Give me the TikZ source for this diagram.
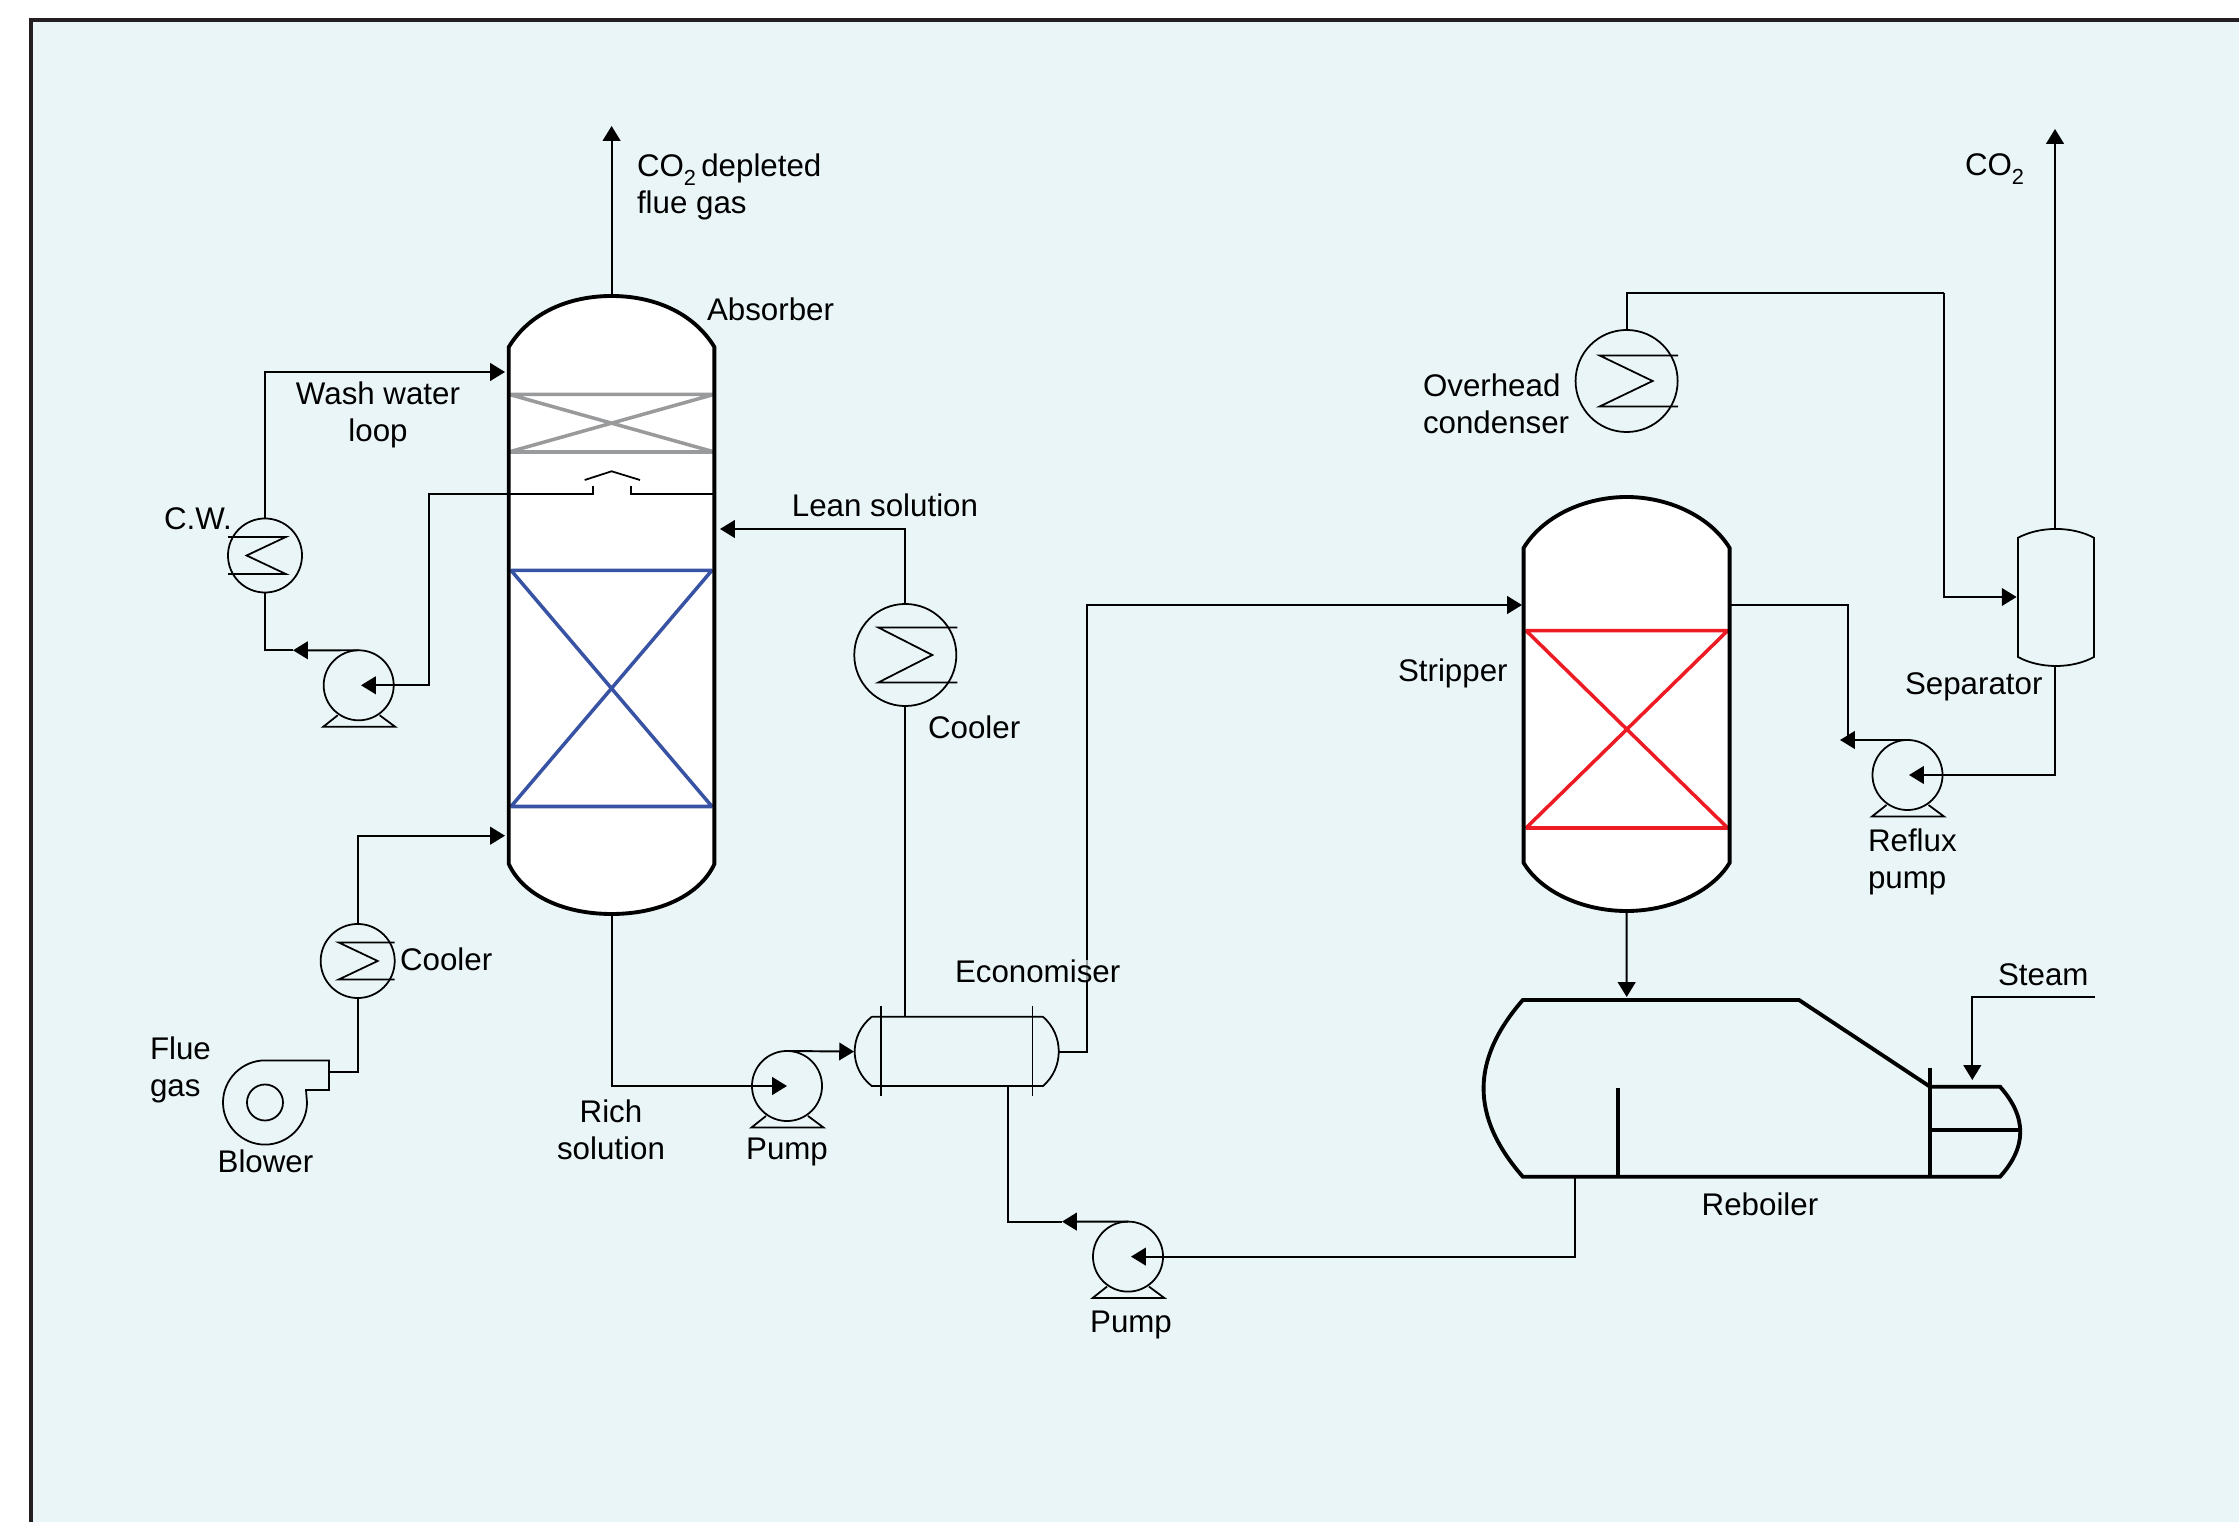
\documentclass[tikz,border=0pt]{standalone}
\usepackage{fontspec}
\setmainfont{Liberation Sans}
\usetikzlibrary{calc,arrows.meta}

\definecolor{panelbg}{HTML}{E9F5F7}
\definecolor{panelline}{HTML}{231F20}
\definecolor{washgrey}{HTML}{999A9C}
\definecolor{packblue}{HTML}{3953A4}
\definecolor{packred}{HTML}{ED1C24}

% small lowered 2 for the gas name
\newcommand{\subtwo}{\raisebox{-2.5pt}{\fontsize{6.2}{6.5}\selectfont 2}}
% feet under a pump
\newcommand{\pumpfeet}[1]{%
  \draw[equip] ($(#1.center)+(-21,30)$) -- ($(#1.center)+(-35.5,41.5)$)
    -- ($(#1.center)+(36.5,41.5)$) -- ($(#1.center)+(21,30)$);}
% coil inside an exchanger: node, half height, rail end, inner end, tip
\newcommand{\coilzig}[5]{%
  \draw[equip] ($(#1.center)+(#3,-#2)$) -- ($(#1.center)+(#4,-#2)$)
    -- ($(#1.center)+(#5,0)$) -- ($(#1.center)+(#4,#2)$) -- ($(#1.center)+(#3,#2)$);}

\begin{document}
\begin{tikzpicture}[x=0.01cm,y=-0.01cm]

% ---- Styles ----
\tikzset{
  pipe/.style={line width=0.55pt, black},
  flow/.style={pipe, -{Triangle[length=4.2pt,width=5pt]}},
  equip/.style={line width=0.5pt, black},
  vesselwall/.style={line width=1.1pt, black},
  vesselbox/.style={rectangle, inner sep=0pt, outer sep=0pt},
  pumpbody/.style={circle, draw, line width=0.5pt, inner sep=0pt, outer sep=0pt, minimum size=0.70cm},
  exchanger/.style={circle, draw, line width=0.5pt, inner sep=0pt, outer sep=0pt},
  tag/.style={inner sep=0pt, outer sep=0pt, align=center, text=black,
              font=\fontsize{8.9}{10.5}\selectfont},
  tagleft/.style={tag, align=left, anchor=west},
}

\useasboundingbox (0,0) rectangle (2239,1522);

% --- Panel ---
\fill[panelbg] (31,20) rectangle (2239,1522);
\draw[panelline, line width=1.15pt] (31,1522) -- (31,20) -- (2239,20);

% --- Absorber ---
\node[vesselbox, minimum width=2.056cm, minimum height=6.18cm] (absorber) at (611.6,605) {};
\fill[white] (508.8,347) .. controls (530,312) and (570,296) .. (611.6,296)
  .. controls (653,296) and (693,312) .. (714.4,347) -- (714.4,864)
  .. controls (700,895) and (660,914) .. (611.6,914)
  .. controls (563,914) and (523,895) .. (508.8,864) -- cycle;
\draw[washgrey, line width=1pt, line join=bevel] (508.8,394.3) -- (714.4,394.3) -- (508.8,452) -- (714.4,452) -- cycle;
\draw[packblue, line width=1pt, line join=bevel] (511,570.3) -- (712,570.3) -- (511,806.5) -- (712,806.5) -- cycle;
\draw[vesselwall] (508.8,347) .. controls (530,312) and (570,296) .. (611.6,296)
  .. controls (653,296) and (693,312) .. (714.4,347) -- (714.4,864)
  .. controls (700,895) and (660,914) .. (611.6,914)
  .. controls (563,914) and (523,895) .. (508.8,864) -- cycle;
\draw[equip] (584.7,480) -- (611.6,471.3) -- (640,480);

% --- Stripper ---
\node[vesselbox, minimum width=2.06cm, minimum height=4.14cm] (stripper) at (1626.6,704) {};
\fill[white] (1523.6,548) .. controls (1543,516) and (1585,497) .. (1626.6,497)
  .. controls (1668,497) and (1710,516) .. (1729.6,548) -- (1729.6,862.8)
  .. controls (1712,892) and (1670,911) .. (1626.6,911)
  .. controls (1583,911) and (1541,892) .. (1523.6,862.8) -- cycle;
\draw[packred, line width=1pt, line join=bevel] (1526,630.6) -- (1727.7,630.6) -- (1526,828) -- (1727.7,828) -- cycle;
\draw[vesselwall] (1523.6,548) .. controls (1543,516) and (1585,497) .. (1626.6,497)
  .. controls (1668,497) and (1710,516) .. (1729.6,548) -- (1729.6,862.8)
  .. controls (1712,892) and (1670,911) .. (1626.6,911)
  .. controls (1583,911) and (1541,892) .. (1523.6,862.8) -- cycle;

% --- Separator ---
\node[vesselbox, minimum width=0.76cm, minimum height=1.368cm] (separator) at (2055,597.4) {};
\draw[equip] (2018,537.8) .. controls (2040,526) and (2072,526) .. (2094,537.8) -- (2094,657)
  .. controls (2072,669) and (2040,669) .. (2018,657) -- cycle;

% --- Economiser ---
\node[vesselbox, minimum width=2.036cm, minimum height=0.692cm] (econ) at (956.8,1051.6) {};
\draw[equip] (871.7,1016.8) -- (1043,1016.8) .. controls (1064,1035) and (1064,1068) .. (1043,1086)
  -- (871.7,1086) .. controls (849,1068) and (849,1035) .. (871.7,1016.8);
\draw[equip] (881.3,1006.4) -- (881.3,1096.4);
\draw[equip] (1032.4,1006.4) -- (1032.4,1096.4);

% --- Reboiler ---
\node[vesselbox, minimum width=5.365cm, minimum height=1.767cm] (reboiler) at (1751.75,1088.3) {};
\draw[vesselwall] (1522.8,1000) -- (1799,1000) -- (1930,1086.7) -- (2000,1086.7)
  .. controls (2027,1117) and (2027,1147) .. (2000,1176.7) -- (1522.8,1176.7)
  .. controls (1470.5,1117) and (1470.5,1060) .. (1522.8,1000) -- cycle;
\draw[vesselwall] (1930,1067.7) -- (1930,1176.7);
\draw[vesselwall] (1930,1130.3) -- (2020,1130.3);
\draw[vesselwall] (1618.3,1088) -- (1618.3,1176.7);

% --- Blower ---
\node[circle, draw, line width=0.5pt, inner sep=0pt, outer sep=0pt, minimum size=0.36cm] (blowerEye) at (265,1102.5) {};
\draw[equip] (329,1090) -- (329,1060.4) -- (265,1060.4)
  .. controls (241.8,1060.4) and (223,1079.5) .. (223,1102.5)
  .. controls (223,1125.5) and (241.8,1144.6) .. (265,1144.6)
  .. controls (288.2,1144.6) and (307,1125.5) .. (307,1102.5) -- (306,1090) -- cycle;

% --- Exchangers ---
\node[exchanger, minimum size=0.74cm] (coolWash) at (265,555.5) {};
\node[exchanger, minimum size=0.74cm] (coolFlue) at (357.7,961) {};
\node[exchanger, minimum size=1.02cm] (coolLean) at (905.3,655) {};
\node[exchanger, minimum size=1.02cm] (condenser) at (1626.6,381) {};
\coilzig{coolWash}{18.6}{-37}{21}{-18.4}
\coilzig{coolFlue}{18.5}{37}{-19}{20}
\coilzig{coolLean}{27.5}{52}{-27}{27}
\coilzig{condenser}{25.5}{51.4}{-27}{26}

% --- Pumps ---
\node[pumpbody] (pumpWash) at (358.7,685.3) {};
\node[pumpbody] (pumpRich) at (787,1086) {};
\node[pumpbody] (pumpLean) at (1128,1256.6) {};
\node[pumpbody] (pumpReflux) at (1907.5,775) {};
\pumpfeet{pumpWash}
\pumpfeet{pumpRich}
\pumpfeet{pumpLean}
\pumpfeet{pumpReflux}

% --- Ends and bends of the lines ---
\coordinate (ventTop) at (611.6,126);
\coordinate (co2Top) at (2055,129);
\coordinate (washIn) at (505,372);
\coordinate (washTip) at (293,650.3);
\coordinate (sprayL) at (593.4,486);
\coordinate (sprayR) at (631,486);
\coordinate (sprayBend) at (429,493.7);
\coordinate (pumpWashIn) at (361,685.3);
\coordinate (gasIn) at (505,835.7);
\coordinate (blowerOut) at (329,1071.8);
\coordinate (pumpRichIn) at (787,1086);
\coordinate (econIn) at (854,1051.6);
\coordinate (leanIn) at (720,529);
\coordinate (econDrain) at (1007.6,1086);
\coordinate (leanTip) at (1062,1221.6);
\coordinate (rebDrain) at (1575,1176.7);
\coordinate (pumpLeanIn) at (1131,1256.6);
\coordinate (econRiser) at (1087.3,605);
\coordinate (stripIn) at (1522,605);
\coordinate (stripOut) at (1729.6,605);
\coordinate (refluxBend) at (1848,740);
\coordinate (refluxTip) at (1840,740);
\coordinate (rebIn) at (1626.7,997);
\coordinate (overBend) at (1944,293);
\coordinate (sepIn) at (2016.6,597);
\coordinate (pumpRefluxIn) at (1909,775);
\coordinate (steamStart) at (2095,996.7);
\coordinate (steamIn) at (1972.3,1080);

% --- Absorber lines ---
\draw[flow] (absorber.north) -- (ventTop);
\draw[flow] (coolWash.north) |- (washIn);
\draw[flow] (pumpWash.north) -- (washTip);
\draw[pipe] (washTip) -| (coolWash.south);
\draw[flow] (sprayL) |- (sprayBend) |- (pumpWashIn);
\draw[pipe] (sprayR) |- (absorber.east |- sprayBend);
\draw[flow] (coolFlue.north) |- (gasIn);
\draw[pipe] (blowerOut) -| (coolFlue.south);
\draw[flow] (absorber.south) |- (pumpRichIn);
\draw[flow] (pumpRich.north) -- (econIn);
\draw[flow] (coolLean.north) |- (leanIn);
\draw[pipe] (coolLean.south) -- (coolLean.south |- econ.north);

% --- Stripper lines ---
\draw[flow] (econ.east) -| (econRiser) -- (stripIn);
\draw[pipe] (econDrain) |- (leanTip);
\draw[flow] (pumpLean.north) -- (leanTip);
\draw[flow] (rebDrain) |- (pumpLeanIn);
\draw[flow] (stripper.south) -- (rebIn);
\draw[pipe] (stripOut) -| (refluxBend);
\draw[flow] (pumpReflux.north) -- (refluxTip);
\draw[pipe] (condenser.north) |- (overBend);
\draw[flow] (overBend) |- (sepIn);
\draw[flow] (separator.north) -- (co2Top);
\draw[flow] (separator.south) |- (pumpRefluxIn);
\draw[flow] (steamStart) -| (steamIn);

% --- Labels ---
\node[tagleft] (lblDepleted) at (637,187) {CO\subtwo\,depleted\\flue gas};
\node[tagleft] (lblAbsorber) at (707,309) {Absorber};
\node[tag] (lblWash) at (378,414.5) {Wash water\\loop};
\node[tag] (lblCW) at (198,519) {C.W.};
\node[tag] (lblLean) at (885,505) {Lean solution};
\node[tagleft] (lblCoolLean) at (928,727) {Cooler};
\node[tagleft] (lblStripper) at (1398,673.5) {Stripper};
\node[tagleft] (lblOverhead) at (1423,404) {Overhead\\condenser};
\node[tagleft] (lblCO) at (1965,169) {CO\subtwo};
\node[tagleft] (lblSeparator) at (1905,687) {Separator};
\node[tagleft] (lblReflux) at (1868,862) {Reflux\\pump};
\node[tagleft] (lblSteam) at (1998,975) {Steam};
\node[tagleft, fill=panelbg, fill opacity=0.65, text opacity=1] (lblEcon) at (955,971) {Economiser};
\node[tag] (lblReboiler) at (1760,1204) {Reboiler};
\node[tag] (lblPumpLean) at (1131,1325) {Pump};
\node[tag] (lblPumpRich) at (787,1152) {Pump};
\node[tag] (lblRich) at (611,1129.5) {Rich\\solution};
\node[tagleft] (lblCoolFlue) at (400,959) {Cooler};
\node[tagleft] (lblFlue) at (150,1070) {Flue\\gas};
\node[tag] (lblBlower) at (265.5,1161) {Blower};

\end{tikzpicture}
\end{document}
